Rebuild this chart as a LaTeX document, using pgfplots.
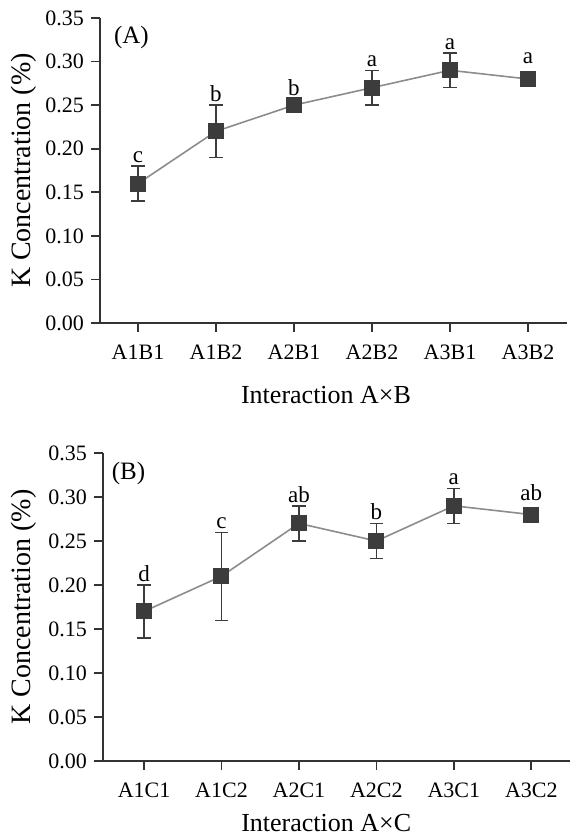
\documentclass[border=0pt]{standalone}
\usepackage{pgfplots}
\pgfplotsset{compat=1.18}
\usepackage{fontspec}
\setmainfont{Liberation Serif}
\definecolor{mk}{HTML}{3C3C3C}
\definecolor{ln}{HTML}{8C8C8C}
\definecolor{ax}{HTML}{333333}
\tikzset{lettr/.style={font=\fontsize{11.5}{13}\selectfont, anchor=base, inner sep=0pt, yshift=1pt}}
\pgfplotsset{
  panel/.style={
    scale only axis,
    width=233.5pt,
    ymin=0, ymax=0.35,
    ytick={0,0.05,...,0.35},
    xtick={0,1,2,3,4,5},
    axis lines=left,
    axis line style={-, color=ax, line width=1pt},
    tick style={color=ax, line width=0.8pt},
    tick align=outside,
    major tick length=4.5pt,
    /pgf/number format/assume math mode=true,
    yticklabel style={/pgf/number format/.cd, fixed, fixed zerofill, precision=2},
    xticklabel style={yshift=-3pt},
    tick label style={font=\fontsize{11}{13}\selectfont, text=black},
    clip=false,
  },
  ser/.style={
    color=ln, line width=0.8pt,
    mark=square*, mark size=3.6pt,
    mark options={fill=mk, draw=mk, solid},
    error bars/.cd, y dir=both, y explicit,
    error bar style={color=mk, line width=0.7pt},
    error mark options={rotate=90, mark size=3.3pt, color=mk, line width=0.7pt},
  },
}
\begin{document}
\begin{tikzpicture}
\path[use as bounding box] (0,0) rectangle (285pt,420pt);
% Panel A
\begin{axis}[panel,
  height=152.5pt,
  at={(50pt,258.5pt)}, anchor=south west,
  xmin=-0.487, xmax=5.5,
  xticklabels={A1B1,A1B2,A2B1,A2B2,A3B1,A3B2},
  xlabel={Interaction A×B},
  ylabel={K Concentration (\%)},
  xlabel style={font=\fontsize{13}{15}\selectfont, at={(axis description cs:0.484,0)}, anchor=center, yshift=-36pt},
  ylabel style={font=\fontsize{14}{16}\selectfont, at={(axis description cs:-0.1627,0.5)}, anchor=center},
]
\addplot+[ser] coordinates {
 (0,0.16) +- (0,0.02)
 (1,0.22) +- (0,0.03)
 (2,0.25) +- (0,0.003)
 (3,0.27) +- (0,0.02)
 (4,0.29) +- (0,0.02)
 (5,0.28) +- (0,0.003)
};
\node[lettr] at (axis cs:0,0.182) {c};
\node[lettr] at (axis cs:1,0.252) {b};
\node[lettr] at (axis cs:2,0.259) {b};
\node[lettr] at (axis cs:3,0.292) {a};
\node[lettr] at (axis cs:4,0.312) {a};
\node[lettr] at (axis cs:5,0.295) {a};
\node[font=\fontsize{12.5}{14}\selectfont] at (axis cs:-0.085,0.328) {(A)};
\end{axis}
% Panel B
\begin{axis}[panel,
  height=154pt,
  at={(51.5pt,39.5pt)}, anchor=south west,
  xmin=-0.53, xmax=5.5,
  xticklabels={A1C1,A1C2,A2C1,A2C2,A3C1,A3C2},
  xlabel={Interaction A×C},
  ylabel={K Concentration (\%)},
  xlabel style={font=\fontsize{13}{15}\selectfont, at={(axis description cs:0.478,0)}, anchor=center, yshift=-31pt},
  ylabel style={font=\fontsize{14}{16}\selectfont, at={(axis description cs:-0.1692,0.5)}, anchor=center},
]
\addplot+[ser] coordinates {
 (0,0.17) +- (0,0.03)
 (1,0.21) +- (0,0.05)
 (2,0.27) +- (0,0.02)
 (3,0.25) +- (0,0.02)
 (4,0.29) +- (0,0.02)
 (5,0.28) +- (0,0.003)
};
\node[lettr] at (axis cs:0,0.202) {d};
\node[lettr] at (axis cs:1,0.262) {c};
\node[lettr] at (axis cs:2,0.291) {ab};
\node[lettr] at (axis cs:3,0.272) {b};
\node[lettr] at (axis cs:4,0.312) {a};
\node[lettr] at (axis cs:5,0.294) {ab};
\node[font=\fontsize{12.5}{14}\selectfont] at (axis cs:-0.2,0.327) {(B)};
\end{axis}
\end{tikzpicture}
\end{document}
